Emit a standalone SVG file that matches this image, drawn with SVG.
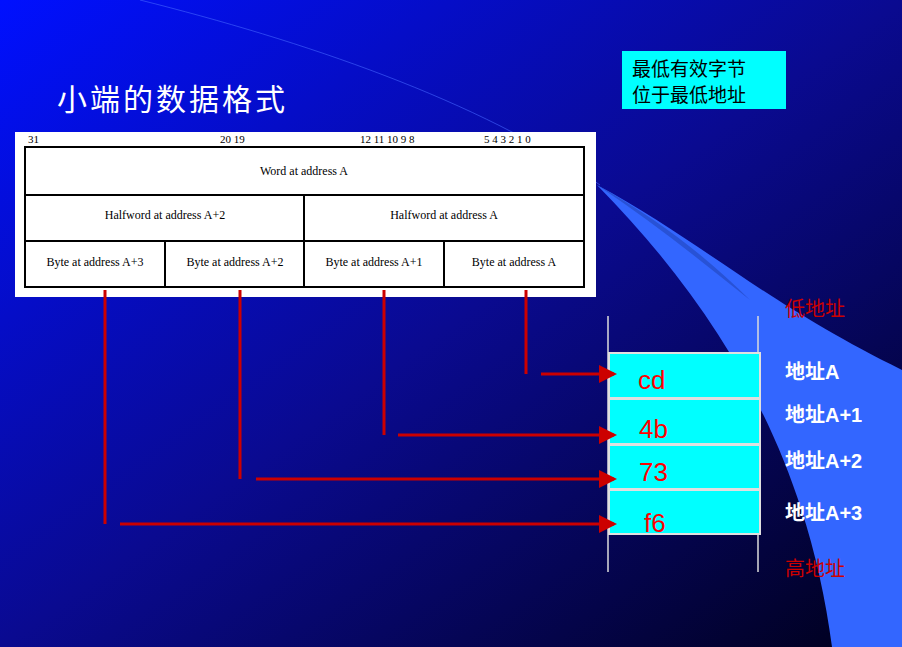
<svg xmlns="http://www.w3.org/2000/svg" width="902" height="647" viewBox="0 0 902 647">
<defs>
<linearGradient id="bg" x1="0" y1="0" x2="1" y2="1"><stop offset="0" stop-color="#0010ff"/><stop offset="0.5" stop-color="#0a0a90"/><stop offset="1" stop-color="#00001a"/></linearGradient>
<marker id="ah" markerWidth="6" markerHeight="6" refX="5" refY="3" orient="auto" markerUnits="strokeWidth"><path d="M0,0 L6,3 L0,6 Z" fill="#cc0000"/></marker>
<style>
.cell{fill:#00ffff;stroke:#e0e0e0;stroke-width:2}
.tb{fill:none;stroke:#000;stroke-width:2}
.t{font-family:"Liberation Serif",serif;font-size:12px;fill:#000;text-anchor:middle}
.bit{font-family:"Liberation Serif",serif;font-size:11px;fill:#000}
.val{font-family:"Liberation Sans",sans-serif;font-size:26px;fill:#ff0000}
.lab{font-family:"Liberation Sans","Noto Sans CJK SC",sans-serif;font-size:20px;font-weight:bold;fill:#fff}
.red{font-family:"Noto Sans CJK SC",serif;font-size:20px;fill:#cc0000}
.con{stroke:#cc0000;stroke-width:3;fill:none}
</style>
</defs>
<rect width="902" height="647" fill="url(#bg)"/>
<path d="M597,185 C700,240 760,300 902,370 L902,647 L832,647 C810,480 740,330 597,185 Z" fill="#3366ff"/>
<path d="M597,185 C660,220 710,260 750,300 C700,260 650,220 597,185 Z" fill="#2244bb" opacity="0.6"/>
<path d="M140,0 C300,40 480,100 600,185" stroke="#4466ff" stroke-width="1" fill="none" opacity="0.6"/>
<text x="57" y="110" font-family="Noto Sans CJK SC,sans-serif" font-size="30" fill="#fff" letter-spacing="3">小端的数据格式</text>
<g id="note"><rect x="622" y="51" width="164" height="58" fill="#00ffff"/>
<text x="632" y="76" font-family="Noto Sans CJK SC,sans-serif" font-size="19" fill="#000">最低有效字节</text>
<text x="632" y="102" font-family="Noto Sans CJK SC,sans-serif" font-size="19" fill="#000">位于最低地址</text></g>
<g id="table">
<rect x="15" y="132" width="581" height="165" fill="#fff"/>
<rect class="tb" x="25" y="147" width="559" height="140"/>
<line class="tb" x1="25" y1="195" x2="584" y2="195"/><line class="tb" x1="25" y1="241" x2="584" y2="241"/>
<line class="tb" x1="304" y1="195" x2="304" y2="287"/><line class="tb" x1="165" y1="241" x2="165" y2="287"/><line class="tb" x1="444" y1="241" x2="444" y2="287"/>
<text class="bit" x="28" y="143">31</text><text class="bit" x="220" y="143">20 19</text><text class="bit" x="360" y="143">12 11 10  9   8</text><text class="bit" x="484" y="143">5   4   3   2   1   0</text>
<text class="t" x="304" y="175">Word at address A</text>
<text class="t" x="165" y="219">Halfword at address A+2</text><text class="t" x="444" y="219">Halfword at address A</text>
<text class="t" x="95" y="266">Byte at address A+3</text><text class="t" x="235" y="266">Byte at address A+2</text><text class="t" x="374" y="266">Byte at address A+1</text><text class="t" x="514" y="266">Byte at address A</text>
</g>
<g id="memory">
<line x1="608" y1="316" x2="608" y2="572" stroke="#ddd" stroke-width="1.5"/><line x1="758" y1="316" x2="758" y2="572" stroke="#ddd" stroke-width="1.5"/>
<rect class="cell" x="609" y="353" width="151" height="45"/><rect class="cell" x="609" y="399" width="151" height="45"/><rect class="cell" x="609" y="445" width="151" height="44"/><rect class="cell" x="609" y="490" width="151" height="44"/>
<text class="val" x="638" y="389">cd</text><text class="val" x="639" y="438">4b</text><text class="val" x="639" y="481">73</text><text class="val" x="644" y="532">f6</text>
</g>
<g id="labels">
<text class="red" x="785" y="316">低地址</text>
<text class="lab" x="785" y="379">地址A</text><text class="lab" x="785" y="422">地址A+1</text><text class="lab" x="785" y="468">地址A+2</text><text class="lab" x="785" y="520">地址A+3</text>
<text class="red" x="785" y="576">高地址</text>
</g>
<g id="connectors">
<line class="con" x1="105" y1="290" x2="105" y2="524"/><line class="con" x1="240" y1="290" x2="240" y2="479"/><line class="con" x1="384" y1="290" x2="384" y2="435"/><line class="con" x1="526" y1="290" x2="526" y2="374"/>
<line class="con" x1="541" y1="374" x2="614" y2="374" marker-end="url(#ah)"/>
<line class="con" x1="398" y1="435" x2="614" y2="435" marker-end="url(#ah)"/>
<line class="con" x1="256" y1="479" x2="614" y2="479" marker-end="url(#ah)"/>
<line class="con" x1="120" y1="524" x2="614" y2="524" marker-end="url(#ah)"/>
</g>
</svg>
